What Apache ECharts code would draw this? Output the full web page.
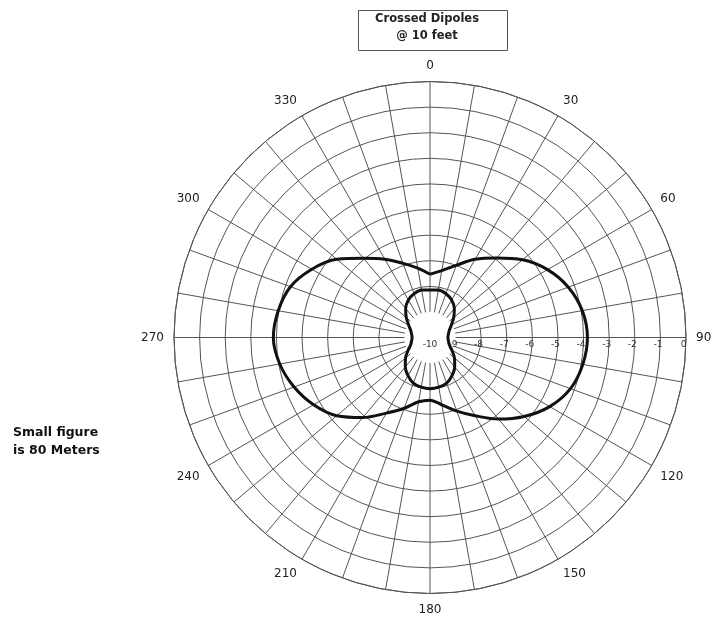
<!DOCTYPE html>
<html>
<head>
<meta charset="utf-8">
<script src="https://cdn.jsdelivr.net/npm/echarts@6/dist/echarts.min.js"></script>
<style>
  html, body { margin: 0; padding: 0; background: #ffffff; }
  #chart { width: 715px; height: 619px; }
</style>
</head>
<body>
<div id="chart"></div>
<script>
// Compass bearings (degrees, 0 = north, clockwise) for each sample
const bearings = [0, 10, 20, 30, 40, 50, 60, 70, 80, 90, 100, 110, 120, 130, 140, 150, 160, 170,
                  180, 190, 200, 210, 220, 230, 240, 250, 260, 270, 280, 290, 300, 310, 320, 330, 340, 350];

// Relative gain in dB, large figure
const largePattern = [-7.53, -7.35, -7.00, -6.47, -5.95, -5.28, -4.70, -4.25, -3.96, -3.85,
                      -3.94, -4.16, -4.60, -5.20, -5.84, -6.47, -6.94, -7.33,
                      -7.55, -7.45, -7.06, -6.59, -5.92, -5.25, -4.75, -4.35, -4.04, -3.88,
                      -3.98, -4.20, -4.67, -5.25, -5.96, -6.47, -6.92, -7.25];

// Relative gain in dB, small figure (80 meters)
const smallPattern = [-8.14, -8.12, -8.18, -8.31, -8.52, -8.79, -9.04, -9.20, -9.27, -9.30,
                      -9.27, -9.20, -9.02, -8.75, -8.50, -8.28, -8.10, -8.03,
                      -8.00, -8.03, -8.10, -8.28, -8.50, -8.75, -9.02, -9.20, -9.27, -9.30,
                      -9.27, -9.20, -9.04, -8.79, -8.52, -8.31, -8.18, -8.12];

// Ring labels (dB) and bearing labels
const dbTicks = [-10, -9, -8, -7, -6, -5, -4, -3, -2, -1, 0];
const bearingLabels = [0, 30, 60, 90, 120, 150, 180, 210, 240, 270, 300, 330];

const titleLines = ['Crossed Dipoles', '@ 10 feet'];
const noteLines = ['Small figure', 'is 80 Meters'];

// The angle axis starts at east (ECharts angle 0), so bearing b sits at value b - 90
function toAxisAngle(b) { return ((b - 90) % 360 + 360) % 360; }
function toBearing(v) { return Math.round((v + 90) % 360); }

function buildLoop(values) {
  const pts = bearings.map((b, i) => [values[i], toAxisAngle(b)]);
  pts.push([values[0], toAxisAngle(360)]);
  return pts;
}

const FONT = 'DejaVu Sans';
const CENTER = [430, 337.5];
const gridColor = '#555';

const ringColors = dbTicks.slice(1).map((v, i) => i === 0 ? 'rgba(0,0,0,0)' : gridColor);

const chart = echarts.init(document.getElementById('chart'), null, { renderer: 'canvas' });

chart.setOption({
  animation: false,
  backgroundColor: '#ffffff',
  polar: [
    { center: CENTER, radius: [25.5, 256] },
    { center: CENTER, radius: [0, 256] }
  ],
  angleAxis: [
    {
      polarIndex: 0,
      type: 'value', min: 0, max: 360, interval: 10,
      startAngle: 0, clockwise: true,
      axisLine: { show: false },
      axisTick: { show: false },
      splitLine: { show: true, lineStyle: { color: gridColor, width: 1 } },
      axisLabel: {
        show: true, margin: 10, color: '#222', fontFamily: FONT, fontSize: 12,
        formatter: v => bearingLabels.indexOf(toBearing(v)) >= 0 ? String(toBearing(v)) : ''
      }
    },
    {
      polarIndex: 1,
      type: 'value', min: 0, max: 360, interval: 10,
      startAngle: 0, clockwise: true,
      axisLine: { show: true, lineStyle: { color: gridColor, width: 1 } },
      axisTick: { show: false },
      axisLabel: { show: false },
      splitLine: { show: false }
    }
  ],
  radiusAxis: [
    {
      polarIndex: 0,
      type: 'value', min: -9, max: 0, interval: 1,
      axisLine: { show: false },
      axisTick: { show: false },
      splitLine: { show: true, lineStyle: { color: ringColors, width: 1 } },
      axisLabel: {
        show: true, margin: -3, verticalAlign: 'top', color: '#333', fontFamily: FONT, fontSize: 9,
        padding: [0, 5, 0, 0],
        formatter: v => dbTicks.indexOf(v) >= 0 ? String(v) : ''
      }
    },
    {
      polarIndex: 1,
      type: 'value', min: -10, max: 0, interval: 10,
      axisLine: { show: false },
      axisTick: { show: false },
      splitLine: { show: false },
      axisLabel: {
        show: true, margin: -3, verticalAlign: 'top', color: '#333', fontFamily: FONT, fontSize: 9,
        formatter: v => v === dbTicks[0] ? String(v) : ''
      }
    }
  ],
  series: [
    {
      name: 'Crossed Dipoles',
      type: 'line', coordinateSystem: 'polar', polarIndex: 1,
      data: buildLoop(largePattern),
      showSymbol: false, smooth: 0.35, clip: false,
      lineStyle: { color: '#111', width: 3 }
    },
    {
      name: '80 Meters',
      type: 'line', coordinateSystem: 'polar', polarIndex: 1,
      data: buildLoop(smallPattern),
      showSymbol: false, smooth: 0.3, clip: false,
      lineStyle: { color: '#111', width: 3 }
    }
  ],
  graphic: [
    {
      type: 'rect', left: 358, top: 10,
      shape: { width: 149, height: 40 },
      style: { fill: '#fff', stroke: '#555', lineWidth: 1 }
    },
    {
      type: 'text', x: 427, y: 19.5,
      style: { text: titleLines[0], font: 'bold 11.5px ' + FONT, fill: '#222', align: 'center', verticalAlign: 'middle' }
    },
    {
      type: 'text', x: 427, y: 36,
      style: { text: titleLines[1], font: 'bold 11.5px ' + FONT, fill: '#222', align: 'center', verticalAlign: 'middle' }
    },
    {
      type: 'text', x: 13, y: 433,
      style: { text: noteLines[0], font: 'bold 12.5px ' + FONT, fill: '#111', align: 'left', verticalAlign: 'middle' }
    },
    {
      type: 'text', x: 13, y: 451,
      style: { text: noteLines[1], font: 'bold 12.5px ' + FONT, fill: '#111', align: 'left', verticalAlign: 'middle' }
    }
  ]
});
</script>
</body>
</html>
